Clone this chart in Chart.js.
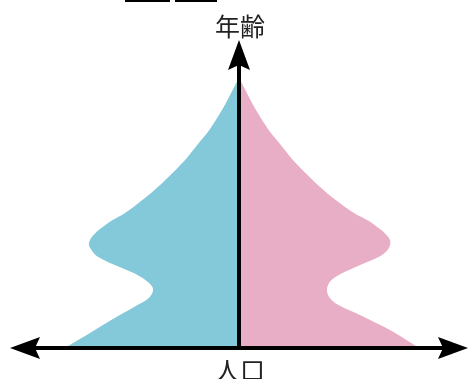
<!DOCTYPE html>
<html>
<head>
<meta charset="utf-8">
<script src="https://cdn.jsdelivr.net/npm/chart.js@4/dist/chart.umd.min.js"></script>
<style>
  html, body { margin: 0; padding: 0; background: #ffffff; }
  canvas { display: block; }
</style>
</head>
<body>
<canvas id="pyramid" width="470" height="379"></canvas>
<script>
// Age bands (bottom to top) and population on each side
const ages = [0, 6, 12, 16, 19, 22, 25, 28, 31, 34, 36, 38, 40, 42, 44, 47, 50, 55, 60, 65, 70, 75, 80, 85, 90, 95, 100];
const malePop = [174, 147, 120, 101, 89, 86, 93, 107, 126, 142, 147, 150, 149, 145, 139, 128, 114, 96, 80, 66, 53, 42, 31, 22, 14, 7, 0];
const femalePop = [180, 154, 122, 99, 90, 88, 92, 105, 123, 141, 148, 151, 151, 147, 141, 130, 115, 96, 80, 66, 53, 42, 31, 22, 14, 7, 0];

const yAxisTitle = '年齢';
const xAxisTitle = '人口';

const maleColor = '#84c9da';
const femaleColor = '#e7aec6';

// Draws the arrowed axes and their titles on top of the shape
const arrowAxes = {
  id: 'arrowAxes',
  afterDatasetsDraw(chart) {
    const { ctx, chartArea, scales } = chart;
    const x0 = scales.x.getPixelForValue(0);
    const y0 = scales.y.getPixelForValue(0);
    ctx.save();
    ctx.fillStyle = '#000';
    ctx.strokeStyle = '#000';
    ctx.lineWidth = 4;

    // horizontal axis
    ctx.beginPath();
    ctx.moveTo(chartArea.left + 20, y0);
    ctx.lineTo(chartArea.right - 20, y0);
    ctx.stroke();
    // vertical axis
    ctx.beginPath();
    ctx.moveTo(x0, y0);
    ctx.lineTo(x0, chartArea.top + 20);
    ctx.stroke();

    const head = (tx, ty, dx, dy) => {
      // dx,dy: unit direction the arrow points to
      const len = 30, half = 11, notch = 5;
      const px = -dy, py = dx;
      ctx.beginPath();
      ctx.moveTo(tx, ty);
      ctx.lineTo(tx - dx * len + px * half, ty - dy * len + py * half);
      ctx.lineTo(tx - dx * (len - notch), ty - dy * (len - notch));
      ctx.lineTo(tx - dx * len - px * half, ty - dy * len - py * half);
      ctx.closePath();
      ctx.fill();
    };
    head(chartArea.left, y0, -1, 0);
    head(chartArea.right, y0, 1, 0);
    head(x0, chartArea.top, 0, -1);

    ctx.fillStyle = '#222';
    ctx.font = '25px "Noto Sans CJK JP", "Noto Sans", sans-serif';
    ctx.textAlign = 'center';
    ctx.textBaseline = 'middle';
    ctx.fillText(yAxisTitle, x0 + 1, chartArea.top - 14);
    ctx.fillText(xAxisTitle, x0 + 1, y0 + 22);

    // fragments of a cropped header at the very top
    ctx.fillStyle = '#000';
    ctx.fillRect(125, 0, 45, 2);
    ctx.fillRect(175, 0, 42, 2);
    ctx.restore();
  }
};

const ctx = document.getElementById('pyramid').getContext('2d');
new Chart(ctx, {
  type: 'line',
  data: {
    datasets: [
      {
        label: '男',
        data: ages.map((a, i) => ({ y: a, x: -malePop[i] })),
        backgroundColor: maleColor,
        borderWidth: 0,
        pointRadius: 0,
        fill: 'origin',
        tension: 0.35
      },
      {
        label: '女',
        data: ages.map((a, i) => ({ y: a, x: femalePop[i] })),
        backgroundColor: femaleColor,
        borderWidth: 0,
        pointRadius: 0,
        fill: 'origin',
        tension: 0.35
      }
    ]
  },
  options: {
    indexAxis: 'y',
    responsive: false,
    animation: false,
    layout: {
      padding: { left: 10, right: 2, top: 40, bottom: 31 }
    },
    plugins: {
      legend: { display: false },
      tooltip: { enabled: false }
    },
    scales: {
      x: { type: 'linear', min: -229, max: 229, display: false },
      y: { type: 'linear', min: 0, max: 114, display: false }
    }
  },
  plugins: [arrowAxes]
});
</script>
</body>
</html>
